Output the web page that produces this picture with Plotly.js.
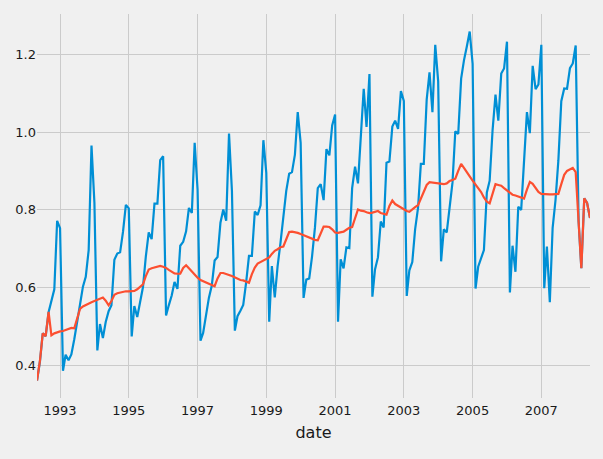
<!DOCTYPE html>
<html>
<head>
<meta charset="utf-8">
<script src="https://cdn.plot.ly/plotly-3.0.1.min.js"></script>
<style>
html,body{margin:0;padding:0;background:#f0f0f0;}
#chart{width:603px;height:459px;}
</style>
</head>
<body>
<div id="chart"></div>
<script>
// Monthly series, first month May 1992, last month June 2008
const startYear = 1992;
const startMonth = 5;

const sales = [
  0.362, 0.410, 0.483, 0.476, 0.537, 0.569, 0.596, 0.772,
  0.753, 0.387, 0.428, 0.414, 0.429, 0.468, 0.507, 0.557, 0.603, 0.628, 0.697, 0.965,
  0.818, 0.439, 0.507, 0.471, 0.512, 0.540, 0.555, 0.672, 0.688, 0.691, 0.744, 0.813,
  0.804, 0.475, 0.553, 0.525, 0.563, 0.602, 0.680, 0.742, 0.725, 0.816, 0.816, 0.928,
  0.938, 0.529, 0.555, 0.580, 0.615, 0.597, 0.708, 0.718, 0.745, 0.805, 0.792, 0.972,
  0.852, 0.464, 0.484, 0.532, 0.574, 0.606, 0.670, 0.679, 0.767, 0.801, 0.772, 0.996,
  0.848, 0.490, 0.527, 0.541, 0.556, 0.614, 0.682, 0.682, 0.796, 0.787, 0.812, 0.979,
  0.895, 0.513, 0.656, 0.575, 0.655, 0.716, 0.780, 0.849, 0.893, 0.897, 0.942, 1.051,
  0.972, 0.574, 0.621, 0.624, 0.680, 0.755, 0.856, 0.866, 0.825, 0.956, 0.940, 1.017,
  1.045, 0.513, 0.673, 0.650, 0.704, 0.702, 0.856, 0.911, 0.868, 1.005, 1.111, 1.013,
  1.149, 0.577, 0.647, 0.678, 0.770, 0.755, 0.921, 0.924, 1.014, 1.029, 1.008, 1.105,
  1.080, 0.579, 0.645, 0.666, 0.750, 0.805, 0.918, 0.918, 1.083, 1.153, 1.051, 1.224,
  1.130, 0.668, 0.750, 0.742, 0.810, 0.870, 1.002, 0.995, 1.137, 1.184, 1.220, 1.258,
  1.175, 0.598, 0.654, 0.676, 0.697, 0.845, 0.875, 1.005, 1.096, 1.029, 1.150, 1.163,
  1.232, 0.588, 0.708, 0.641, 0.808, 0.800, 0.920, 1.051, 0.997, 1.170, 1.110, 1.122,
  1.224, 0.599, 0.706, 0.563, 0.754, 0.826, 0.927, 1.079, 1.112, 1.111, 1.164, 1.176,
  1.222, 0.770, 0.650, 0.830, 0.818, 0.779
];

const smoothed = [
  0.362, 0.412, 0.483, 0.476, 0.538, 0.478, 0.483, 0.486,
  0.488, 0.489, 0.491, 0.494, 0.497, 0.496, 0.520, 0.546, 0.552, 0.556, 0.560, 0.563,
  0.566, 0.569, 0.573, 0.575, 0.567, 0.555, 0.566, 0.582, 0.586, 0.588, 0.590, 0.591,
  0.591, 0.591, 0.592, 0.596, 0.602, 0.609, 0.630, 0.647, 0.650, 0.652, 0.654, 0.656,
  0.654, 0.651, 0.646, 0.641, 0.637, 0.636, 0.636, 0.651, 0.658, 0.650, 0.642, 0.633,
  0.626, 0.620, 0.617, 0.614, 0.610, 0.606, 0.604, 0.624, 0.638, 0.638, 0.636, 0.633,
  0.630, 0.626, 0.622, 0.620, 0.619, 0.615, 0.613, 0.635, 0.652, 0.662, 0.666, 0.668,
  0.673, 0.678, 0.687, 0.695, 0.699, 0.704, 0.706, 0.725, 0.743, 0.744, 0.743, 0.741,
  0.738, 0.735, 0.732, 0.728, 0.725, 0.723, 0.722, 0.740, 0.757, 0.757, 0.756, 0.750,
  0.742, 0.741, 0.742, 0.744, 0.749, 0.754, 0.756, 0.780, 0.801, 0.798, 0.797, 0.794,
  0.792, 0.793, 0.795, 0.797, 0.792, 0.789, 0.788, 0.810, 0.824, 0.815, 0.810, 0.805,
  0.801, 0.797, 0.795, 0.802, 0.807, 0.812, 0.830, 0.850, 0.864, 0.871, 0.870, 0.869,
  0.868, 0.867, 0.866, 0.868, 0.874, 0.877, 0.880, 0.900, 0.918, 0.908, 0.898, 0.886,
  0.875, 0.866, 0.857, 0.846, 0.832, 0.821, 0.817, 0.842, 0.866, 0.864, 0.862, 0.856,
  0.850, 0.843, 0.839, 0.837, 0.835, 0.832, 0.829, 0.852, 0.872, 0.867, 0.856, 0.846,
  0.841, 0.840, 0.840, 0.840, 0.840, 0.840, 0.841, 0.866, 0.890, 0.900, 0.905, 0.908,
  0.897, 0.770, 0.650, 0.830, 0.818, 0.779
];

const xTickVals = ['1993-01-01','1995-01-01','1997-01-01','1999-01-01','2001-01-01','2003-01-01','2005-01-01','2007-01-01'];
const xTickText = ['1993','1995','1997','1999','2001','2003','2005','2007'];
const yTickVals = [0.4, 0.6, 0.8, 1.0, 1.2];
const yTickText = ['0.4', '0.6', '0.8', '1.0', '1.2'];

const dates = sales.map((_, i) => {
  const m0 = startMonth - 1 + i;
  const y = startYear + Math.floor(m0 / 12);
  const m = (m0 % 12) + 1;
  return y + '-' + String(m).padStart(2, '0') + '-01';
});

const traces = [
  {x: dates, y: sales, type: 'scatter', mode: 'lines',
   line: {color: '#008fd5', width: 2.2}, hoverinfo: 'skip', showlegend: false},
  {x: dates, y: smoothed, type: 'scatter', mode: 'lines',
   line: {color: '#fc4f30', width: 2.2}, hoverinfo: 'skip', showlegend: false}
];

const layout = {
  width: 603, height: 459,
  paper_bgcolor: '#f0f0f0', plot_bgcolor: '#f0f0f0',
  margin: {l: 37, r: 13, t: 14, b: 61},
  font: {family: 'DejaVu Sans', size: 13, color: '#1a1a1a'},
  showlegend: false,
  xaxis: {
    type: 'date',
    range: [dates[0], dates[dates.length - 1]],
    tickvals: xTickVals, ticktext: xTickText,
    showgrid: true, gridcolor: '#cbcbcb', gridwidth: 1,
    zeroline: false, showline: false, ticks: '',
    ticklabelstandoff: 3,
    tickfont: {family: 'DejaVu Sans', size: 13, color: '#1a1a1a'},
    title: {text: 'date', font: {family: 'DejaVu Sans', size: 16, color: '#1a1a1a'}, standoff: 9}
  },
  yaxis: {
    range: [0.317, 1.303],
    tickvals: yTickVals, ticktext: yTickText,
    showgrid: true, gridcolor: '#cbcbcb', gridwidth: 1,
    zeroline: false, showline: false, ticks: '',
    tickfont: {family: 'DejaVu Sans', size: 13, color: '#1a1a1a'}
  }
};

Plotly.newPlot('chart', traces, layout, {displayModeBar: false, staticPlot: true});
</script>
</body>
</html>
